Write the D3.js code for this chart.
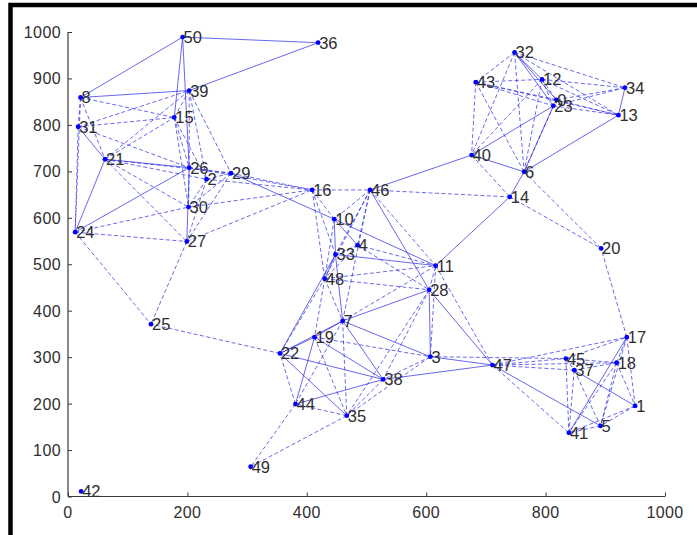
<!DOCTYPE html>
<html>
<head>
<meta charset="utf-8">
<script src="https://cdn.jsdelivr.net/npm/d3@7"></script>
<style>
  body { margin: 0; background: #fff; }
  svg { display: block; }
</style>
</head>
<body>
<svg id="chart" width="697" height="535"></svg>
<script>
// node ids and positions (data units)
const nodeIds = [0,1,2,3,4,5,6,7,8,10,11,12,13,14,15,16,17,18,19,20,21,22,23,24,25,26,27,28,29,30,31,32,33,34,35,36,37,38,39,40,41,42,43,44,45,46,47,48,49,50];
const nodeX   = [818,950,232,607,485,892,764,460,21,446,616,794,922,740,178,409,936,919,413,893,62,355,813,12,139,203,199,605,273,202,17,748,448,933,467,419,848,528,203,676,839,22,683,381,834,506,711,430,306,192];
const nodeY   = [854,195,683,301,541,152,699,378,859,597,497,898,821,645,816,660,343,288,343,534,726,308,841,569,371,708,549,445,696,623,796,956,521,880,174,977,272,252,874,735,137,11,892,199,297,660,283,469,64,989];

const solidEdges = [
  [50,36],[50,8],[36,39],[8,39],[50,15],[50,26],[26,27],[31,21],[21,24],[21,26],[24,26],
  [29,10],[10,4],[10,11],[10,33],[33,11],[33,7],[33,48],[7,28],[7,19],[7,3],[7,38],[7,22],
  [19,38],[19,22],[19,44],[22,33],[22,38],[28,3],[28,47],[11,14],[38,47],[22,35],[44,38],
  [46,40],[46,28],[40,23],[40,6],[23,6],[32,12],[32,23],[32,0],[34,13],[13,6],[47,5],[37,1],
  [17,41],[3,47],[6,14]
];
const dashedEdges = [
  [8,15],[8,31],[8,21],[8,24],[31,39],[31,15],[31,26],[31,24],[21,15],[21,39],[21,2],[21,29],
  [21,30],[21,27],[24,30],[24,27],[24,25],[39,26],[39,2],[39,29],[39,15],[15,26],[15,2],[15,30],
  [26,29],[26,16],[2,29],[2,16],[30,16],[27,16],[2,30],[2,27],[29,27],[29,30],[27,25],[26,30],
  [16,46],[16,10],[16,48],[16,33],[29,16],[46,10],[46,4],[46,33],[46,48],[46,11],[46,7],[46,14],
  [4,11],[4,33],[4,48],[4,28],[48,11],[48,28],[48,7],[48,19],[10,48],[7,11],[7,35],[7,44],
  [19,3],[19,35],[28,38],[28,35],[28,11],[11,3],[11,47],[3,38],[3,45],[38,35],[35,3],[35,44],
  [35,49],[44,49],[44,22],[22,25],[22,48],
  [32,43],[32,34],[32,13],[32,40],[32,6],[43,12],[43,0],[43,23],[43,13],[43,40],[43,6],
  [12,34],[12,23],[12,0],[12,13],[12,40],[12,6],[34,0],[34,23],[0,13],[23,13],[0,6],
  [40,14],[14,20],[6,20],
  [47,17],[47,45],[47,18],[47,37],[47,41],[45,17],[45,18],[45,41],[45,37],[37,18],[37,41],
  [37,5],[18,17],[18,1],[18,41],[18,5],[17,1],[17,5],[17,20],[1,5],[1,41],[5,41]
];

const xTicks = [0,200,400,600,800,1000];
const yTicks = [0,100,200,300,400,500,600,700,800,900,1000];

const svg = d3.select("#chart");

const x = d3.scaleLinear().domain([0,1000]).range([68,665]);
const y = d3.scaleLinear().domain([0,1000]).range([496.5,32]);

const nodes = nodeIds.map((id,i) => ({id, x: nodeX[i], y: nodeY[i]}));
const byId = new Map(nodes.map(d => [d.id, d]));

// frame round the figure
svg.append("rect")
  .attr("x", 10.5).attr("y", 5).attr("width", 800).attr("height", 600)
  .attr("fill", "none").attr("stroke", "#000").attr("stroke-width", 4.5);

const font = "Liberation Sans, Arial, sans-serif";

// axes
const axisColor = "#3a3a3a";
const gx = svg.append("g")
  .attr("transform", `translate(0,${y(0)})`)
  .call(d3.axisTop(x).tickValues(xTicks).tickSize(4).tickFormat(""));
svg.append("g").selectAll("text")
  .data(xTicks).join("text")
  .attr("x", d => x(d)).attr("y", y(0) + 21)
  .attr("text-anchor", "middle")
  .attr("font-family", font).attr("letter-spacing", 0.4)
  .attr("font-size", 16).attr("fill", "#2e2e2e")
  .text(d => d);

const gy = svg.append("g")
  .attr("transform", `translate(${x(0)},0)`)
  .call(d3.axisRight(y).tickValues(yTicks).tickSize(4).tickFormat(""));
svg.append("g").selectAll("text")
  .data(yTicks).join("text")
  .attr("x", x(0) - 7).attr("y", d => y(d) + 6)
  .attr("text-anchor", "end")
  .attr("font-family", font).attr("letter-spacing", 0.4)
  .attr("font-size", 16).attr("fill", "#2e2e2e")
  .text(d => d);

[gx, gy].forEach(g => {
  g.select(".domain").attr("stroke", axisColor).attr("stroke-width", 1.2);
  g.selectAll(".tick line").attr("stroke", axisColor);
});
gx.select(".domain").attr("d", `M${x(0)},0H${x(1000)}`);
gy.select(".domain").attr("d", `M0,${y(0)}V${y(1000)}`);

// edges
const edgeColor = "#2a2ae8";
svg.append("g").selectAll("line")
  .data(dashedEdges).join("line")
  .attr("x1", d => x(byId.get(d[0]).x)).attr("y1", d => y(byId.get(d[0]).y))
  .attr("x2", d => x(byId.get(d[1]).x)).attr("y2", d => y(byId.get(d[1]).y))
  .attr("stroke", edgeColor).attr("stroke-opacity", 0.75)
  .attr("stroke-width", 0.95).attr("stroke-dasharray", "4,2.5");

svg.append("g").selectAll("line")
  .data(solidEdges).join("line")
  .attr("x1", d => x(byId.get(d[0]).x)).attr("y1", d => y(byId.get(d[0]).y))
  .attr("x2", d => x(byId.get(d[1]).x)).attr("y2", d => y(byId.get(d[1]).y))
  .attr("stroke", edgeColor).attr("stroke-opacity", 0.75)
  .attr("stroke-width", 0.95);

// nodes
svg.append("g").selectAll("circle")
  .data(nodes).join("circle")
  .attr("cx", d => x(d.x)).attr("cy", d => y(d.y)).attr("r", 2.4)
  .attr("fill", "#0000ff");

svg.append("g").selectAll("text")
  .data(nodes).join("text")
  .attr("x", d => x(d.x) + 1).attr("y", d => y(d.y) + 6)
  .attr("font-family", font)
  .attr("font-size", 16.5).attr("fill", "#2e2e2e")
  .text(d => d.id);
</script>
</body>
</html>
